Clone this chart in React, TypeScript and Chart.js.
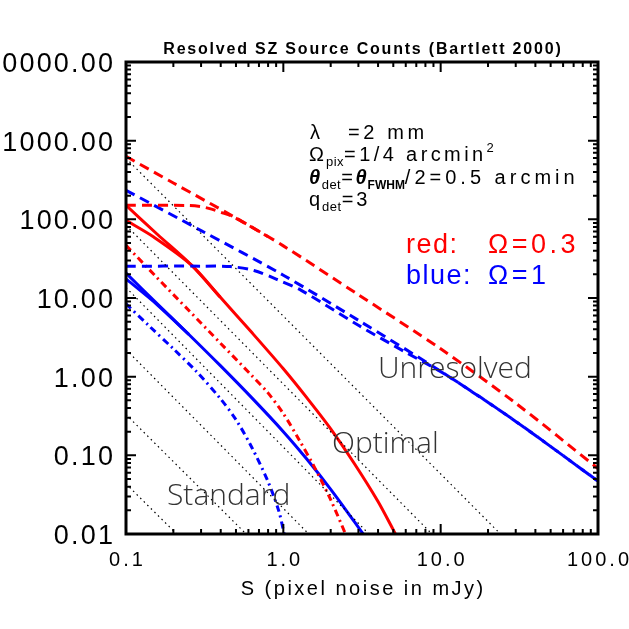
import React, { useEffect, useRef } from "react";
import { Chart, registerables } from "chart.js";
Chart.register(...registerables);

// ---- data (x = pixel noise S in mJy, y = counts) ----
const redDashUpperX = [0.1, 0.2, 0.5, 1.0, 3.0, 10, 30, 100];
const redDashUpperY = [631, 290, 104, 46, 11.0, 2.26, 0.46, 0.068];

const redDashFlatX = [0.1, 0.25, 0.3, 0.35, 0.4, 0.47, 0.6, 0.8];
const redDashFlatY = [151, 150, 145, 135, 123, 110, 84, 60];

const blueDashUpperX = [0.1, 0.3, 1, 3, 10, 30, 100];
const blueDashUpperY = [234, 72, 19.5, 5.2, 1.17, 0.27, 0.047];

const blueDashFlatX = [0.1, 0.3, 0.46, 0.65, 0.9, 1.3, 3, 6, 11, 30, 100];
const blueDashFlatY = [25.4, 25.4, 25.1, 22.4, 17.4, 12.5, 4.5, 2.04, 1.035, 0.27, 0.047];

const redSolidX = [0.1, 0.158, 0.26, 0.398, 0.631, 1.0, 1.413, 1.995, 2.818, 3.98, 5.01, 5.62];
const redSolidY = [151, 64.6, 26.3, 10.2, 3.63, 1.26, 0.537, 0.219, 0.0794, 0.0263, 0.0112, 0.0072];

const redSolid2X = [0.1, 0.15, 0.26, 0.398];
const redSolid2Y = [97, 59.6, 26.3, 10.2];

const redDashDotX = [0.1, 0.158, 0.251, 0.398, 0.631, 0.794, 1.0, 1.259, 1.585, 1.995, 2.512, 2.69];
const redDashDotY = [46.7, 18.0, 6.93, 2.67, 1.03, 0.631, 0.339, 0.158, 0.0692, 0.0275, 0.0095, 0.0068];

const blueSolidX = [0.1, 0.158, 0.251, 0.398, 0.631, 1.0, 1.413, 1.995, 2.818, 3.162, 3.548];
const blueSolidY = [20.7, 8.43, 3.44, 1.38, 0.537, 0.2, 0.0891, 0.0372, 0.0145, 0.0105, 0.0076];

const blueSolid2X = [0.1, 0.158, 0.251];
const blueSolid2Y = [17.5, 8.2, 3.44];

const blueDashDotX = [0.1, 0.141, 0.2, 0.282, 0.398, 0.501, 0.631, 0.794, 0.933, 1.012, 1.047];
const blueDashDotY = [8.43, 4.37, 2.26, 1.148, 0.525, 0.282, 0.126, 0.0479, 0.02, 0.01, 0.0071];

// dotted reference lines: value at S = 0.1 and S where they reach 0.01
const dottedStartY = [598, 84, 13.6, 2.21, 0.33, 0.0434];
const dottedEndX = [24, 8.8, 3.5, 1.45, 0.58, 0.21];

const xTickValues = [0.1, 1, 10, 100];
const xTickLabels = ["0.1", "1.0", "10.0", "100.0"];
const yTickValues = [0.01, 0.1, 1, 10, 100, 1000, 10000];
const yTickLabels = ["0.01", "0.10", "1.00", "10.00", "100.00", "1000.00", "10000.00"];

const TITLE = "Resolved SZ Source Counts (Bartlett 2000)";
const X_TITLE = "S (pixel noise in mJy)";

const RED = "#ff0000";
const BLUE = "#0000ff";
const FONT = "'Liberation Sans', Arial, Helvetica, sans-serif";
const THIN = "'Open Sans', 'Noto Sans', sans-serif";

const pts = (xs: number[], ys: number[]) => xs.map((x, i) => ({ x, y: ys[i] }));

type Seg = { t: string; font: string; ls?: number; dy?: number; color?: string };

function drawRich(ctx: CanvasRenderingContext2D, x: number, baseline: number, segs: Seg[]) {
  let cx = x;
  for (const s of segs) {
    ctx.font = s.font;
    (ctx as any).letterSpacing = (s.ls ?? 0) + "px";
    ctx.fillStyle = s.color ?? "#000";
    ctx.textAlign = "left";
    ctx.textBaseline = "alphabetic";
    ctx.fillText(s.t, cx, baseline + (s.dy ?? 0));
    cx += ctx.measureText(s.t).width;
  }
}

function text(
  ctx: CanvasRenderingContext2D,
  t: string,
  x: number,
  y: number,
  font: string,
  ls: number,
  align: CanvasTextAlign,
  color = "#000"
) {
  ctx.font = font;
  (ctx as any).letterSpacing = ls + "px";
  ctx.fillStyle = color;
  ctx.textAlign = align;
  ctx.textBaseline = "alphabetic";
  let xx = x;
  if (align === "right") xx = x + ls;
  if (align === "center") xx = x + ls / 2;
  ctx.fillText(t, xx, y);
}

const framePlugin = {
  id: "idlFrame",
  afterDatasetsDraw(chart: any) {
    const ctx: CanvasRenderingContext2D = chart.ctx;
    const xs = chart.scales.x;
    const ys = chart.scales.y;
    const { left, right, top, bottom } = chart.chartArea;
    ctx.save();
    // ticks
    ctx.strokeStyle = "#000";
    ctx.lineWidth = 2;
    ctx.beginPath();
    for (let d = 0.1; d <= 100.0001; d *= 10) {
      for (let m = 1; m <= 9; m++) {
        const v = d * m;
        if (v < 0.1 - 1e-9 || v > 100 + 1e-9) continue;
        const px = xs.getPixelForValue(v);
        const len = m === 1 ? 10 : 5;
        ctx.moveTo(px, bottom);
        ctx.lineTo(px, bottom - len);
        ctx.moveTo(px, top);
        ctx.lineTo(px, top + len);
      }
    }
    for (let d = 0.01; d <= 10000.0001; d *= 10) {
      for (let m = 1; m <= 9; m++) {
        const v = d * m;
        if (v < 0.01 - 1e-12 || v > 10000 + 1e-6) continue;
        const py = ys.getPixelForValue(v);
        const len = m === 1 ? 10 : 5;
        ctx.moveTo(left, py);
        ctx.lineTo(left + len, py);
        ctx.moveTo(right, py);
        ctx.lineTo(right - len, py);
      }
    }
    ctx.stroke();
    // box
    ctx.lineWidth = 3;
    ctx.strokeRect(left, top, right - left, bottom - top);

    // tick labels
    yTickValues.forEach((v, i) => {
      const py = ys.getPixelForValue(v);
      text(ctx, yTickLabels[i], 113, py + 10, `27px ${FONT}`, 2.2, "right");
    });
    xTickValues.forEach((v, i) => {
      const px = xs.getPixelForValue(v);
      text(ctx, xTickLabels[i], px, 566, `20px ${FONT}`, 3, "center");
    });
    text(ctx, X_TITLE, (left + right) / 2, 595, `20px ${FONT}`, 2.5, "center");
    text(ctx, TITLE, (left + right) / 2, 54, `bold 16px ${FONT}`, 1.8, "center");

    // annotation block
    const base = `20px ${FONT}`;
    const sub = `13px ${FONT}`;
    const th = `italic bold 20px ${FONT}`;
    drawRich(ctx, 310, 139, [{ t: "λ", font: base, ls: 3 }]);
    drawRich(ctx, 348, 139, [{ t: "=2 mm", font: base, ls: 3.6 }]);
    drawRich(ctx, 309, 161, [
      { t: "Ω", font: base, ls: 2 },
      { t: "pix", font: sub, ls: 0.5, dy: 5 },
      { t: "=1/4 arcmin", font: base, ls: 3.4 },
      { t: "2", font: sub, ls: 0.5, dy: -9 },
    ]);
    drawRich(ctx, 309, 184, [
      { t: "θ", font: th, ls: 1.5 },
      { t: "det", font: sub, ls: 0.5, dy: 5 },
      { t: "=", font: base, ls: 2.5 },
      { t: "θ", font: th, ls: 1 },
      { t: "FWHM", font: `bold 12px ${FONT}`, ls: 0, dy: 5 },
      { t: "/2=0.5 arcmin", font: base, ls: 4 },
    ]);
    drawRich(ctx, 309, 206, [
      { t: "q", font: base, ls: 2 },
      { t: "det", font: sub, ls: 0.5, dy: 5 },
      { t: "=3", font: base, ls: 3 },
    ]);
    const big = `27px ${FONT}`;
    drawRich(ctx, 406, 253, [{ t: "red:", font: big, ls: 1.5, color: RED }]);
    drawRich(ctx, 488, 253, [{ t: "Ω=0.3", font: big, ls: 3.5, color: RED }]);
    drawRich(ctx, 406, 284, [{ t: "blue:", font: big, ls: 1.5, color: BLUE }]);
    drawRich(ctx, 488, 284, [{ t: "Ω=1", font: big, ls: 3.5, color: BLUE }]);

    // region labels
    const thin = `300 30px ${THIN}`;
    drawRich(ctx, 378, 378, [{ t: "Unresolved", font: thin, ls: 0, color: "#333" }]);
    drawRich(ctx, 332, 453, [{ t: "Optimal", font: thin, ls: 0, color: "#333" }]);
    drawRich(ctx, 167, 505, [{ t: "Standard", font: thin, ls: 0, color: "#333" }]);
    ctx.restore();
  },
};

export default function App() {
  const ref = useRef<HTMLCanvasElement | null>(null);
  useEffect(() => {
    if (!ref.current) return;
    const line = (
      xs: number[],
      ys: number[],
      color: string,
      dash: number[],
      width = 3
    ) => ({
      data: pts(xs, ys),
      borderColor: color,
      backgroundColor: color,
      borderWidth: width,
      borderDash: dash,
      pointRadius: 0,
      fill: false,
      tension: 0.3,
    });
    const dotted = dottedStartY.map((y0, i) => ({
      data: [
        { x: 0.1, y: y0 },
        { x: dottedEndX[i], y: 0.01 },
      ],
      borderColor: "#000",
      borderWidth: 1.2,
      borderDash: [1.5, 3.5],
      pointRadius: 0,
      fill: false,
    }));
    const chart = new Chart(ref.current, {
      type: "line",
      data: {
        datasets: [
          ...dotted,
          line(redDashUpperX, redDashUpperY, RED, [10, 6]),
          line(redDashFlatX, redDashFlatY, RED, [10, 6]),
          line(blueDashUpperX, blueDashUpperY, BLUE, [10, 6]),
          line(blueDashFlatX, blueDashFlatY, BLUE, [10, 6]),
          line(redSolidX, redSolidY, RED, []),
          line(redSolid2X, redSolid2Y, RED, []),
          line(redDashDotX, redDashDotY, RED, [7, 4, 2, 4]),
          line(blueSolidX, blueSolidY, BLUE, []),
          line(blueSolid2X, blueSolid2Y, BLUE, []),
          line(blueDashDotX, blueDashDotY, BLUE, [7, 4, 2, 4]),
        ] as any,
      },
      options: {
        animation: false,
        responsive: false,
        devicePixelRatio: 1,
        layout: { padding: { left: 0, right: 31, top: 62, bottom: 0 } },
        plugins: {
          legend: { display: false },
          tooltip: { enabled: false },
          title: { display: false },
        },
        elements: { point: { radius: 0 } },
        scales: {
          x: {
            type: "logarithmic",
            min: 0.1,
            max: 100,
            ticks: { display: false },
            grid: { display: false },
            border: { display: false },
            afterFit: (s: any) => {
              s.height = 95;
            },
          },
          y: {
            type: "logarithmic",
            min: 0.01,
            max: 10000,
            ticks: { display: false },
            grid: { display: false },
            border: { display: false },
            afterFit: (s: any) => {
              s.width = 126;
            },
          },
        },
      } as any,
      plugins: [framePlugin],
    });
    return () => chart.destroy();
  }, []);
  return (
    <div style={{ position: "fixed", left: 0, top: 0, width: 629, height: 629, background: "#fff" }}>
      <canvas ref={ref} width={629} height={629} style={{ display: "block" }} />
    </div>
  );
}
